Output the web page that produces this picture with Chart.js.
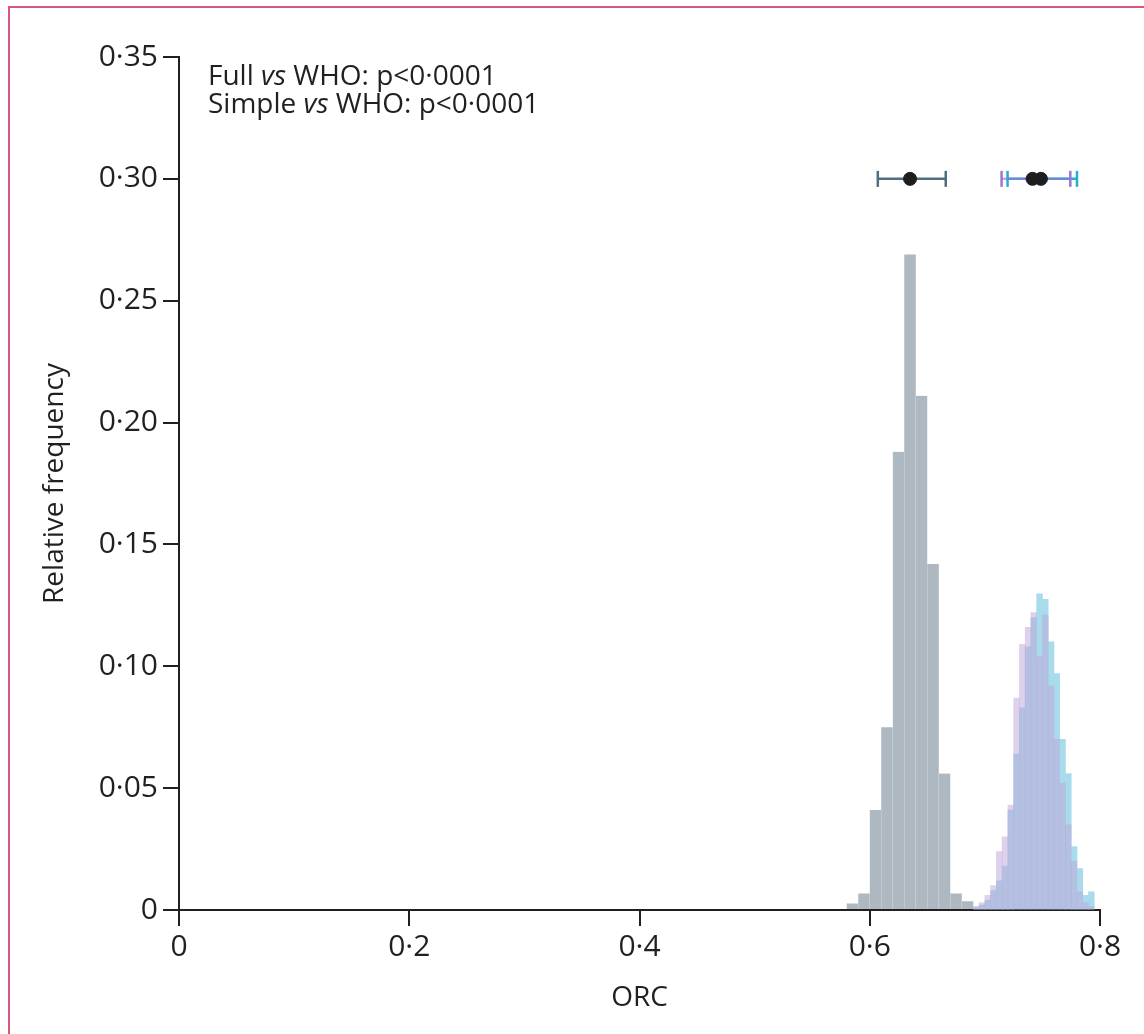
<!DOCTYPE html>
<html>
<head>
<meta charset="utf-8">
<script src="https://cdn.jsdelivr.net/npm/chart.js@4/dist/chart.umd.min.js"></script>
<style>
  html,body{margin:0;padding:0;background:#fff;}
  #wrap{position:relative;width:1144px;height:1034px;overflow:hidden;}
  #frame{position:absolute;left:8px;top:6px;width:1300px;height:1200px;border-left:2px solid #d9577a;border-top:2px solid #d9577a;}
  #c{position:absolute;left:0;top:0;}
</style>
</head>
<body>
<div id="wrap"><div id="frame"></div><canvas id="c" width="1144" height="1034"></canvas></div>
<script>
// ── ORC histogram: WHO vs Full vs Simple ──

// bin centres
const whoBins  = [0.585,0.595,0.605,0.615,0.625,0.635,0.645,0.655,0.665,0.675,0.685];
const whoFreq  = [0.0027,0.0068,0.041,0.075,0.188,0.269,0.211,0.142,0.056,0.0068,0.0036];

const fineBins   = [0.6925,0.6975,0.7025,0.7075,0.7125,0.7175,0.7225,0.7275,0.7325,0.7375,0.7425,
                    0.7475,0.7525,0.7575,0.7625,0.7675,0.7725,0.7775,0.7825,0.7875,0.7925];
const simpleFreq = [0.0015,0.003,0.006,0.010,0.024,0.030,0.043,0.087,0.109,0.116,0.122,
                    0.104,0.121,0.092,0.070,0.052,0.035,0.020,0.0075,0.003,0.0014];
const fullFreq   = [0.001,0.002,0.004,0.008,0.012,0.018,0.041,0.064,0.083,0.108,0.120,
                    0.1297,0.1275,0.110,0.097,0.070,0.056,0.026,0.017,0.006,0.0075];

// mean + 95% CI, drawn at y = 0.30  (WHO, Simple, Full)
const ciY    = 0.30;
const ciLow  = [0.607,0.7145,0.7197];
const ciMean = [0.635,0.7414,0.7487];
const ciHigh = [0.666,0.7742,0.780];

const xTickLabels = ['0','0·2','0·4','0·6','0·8'];
const yTickLabels = ['0','0·05','0·10','0·15','0·20','0·25','0·30','0·35'];

const annotLines = [['Full ','vs',' WHO: p<0·0001'],['Simple ','vs',' WHO: p<0·0001']];

const FONT = '"Open Sans", sans-serif';
const INK = '#231f20';
const ciColors = ['#4e6f7c','rgba(150,118,210,0.62)','#25aed2'];

const pts = (xs,ys)=>xs.map((x,i)=>({x,y:ys[i]}));

// purple first so it sits on top of the cyan one
const ciSets = [1,2,0].map(i=>({
  type:'line',
  data:[{x:ciLow[i],y:ciY},{x:ciHigh[i],y:ciY}],
  borderColor:ciColors[i],borderWidth:2.5,
  pointStyle:'line',pointRotation:90,pointRadius:8,pointHoverRadius:8,
  pointBorderColor:i===1?'#9a78d0':ciColors[i],pointBorderWidth:2.5,
  order:1,
}));

const annotPlugin = {
  id:'annot',
  afterDraw(chart){
    const ctx = chart.ctx;
    const a = chart.chartArea;
    ctx.save();
    ctx.fillStyle = INK;
    ctx.textBaseline = 'alphabetic';
    annotLines.forEach((parts,row)=>{
      let x = a.left + 29;
      const y = a.top + 28 + row*28;
      parts.forEach((p,k)=>{
        ctx.font = (k===1?'italic ':'') + '28px ' + FONT;
        ctx.fillText(p,x,y);
        x += ctx.measureText(p).width;
      });
    });
    ctx.restore();
  }
};

new Chart(document.getElementById('c').getContext('2d'),{
  type:'bar',
  data:{datasets:[
    {type:'scatter',data:pts(ciMean,ciMean.map(()=>ciY)),backgroundColor:'#1e1e1e',borderColor:'#1e1e1e',pointRadius:6.5,pointHoverRadius:6.5,order:0},
    ...ciSets,
    {label:'Simple',data:pts(fineBins,simpleFreq),xAxisID:'xf',backgroundColor:'rgba(190,164,215,0.51)',borderWidth:0,
      barPercentage:1,categoryPercentage:1,grouped:false,order:2},
    {label:'Full',data:pts(fineBins,fullFreq),xAxisID:'xf',backgroundColor:'rgb(168,220,236)',borderWidth:0,
      barPercentage:1,categoryPercentage:1,grouped:false,order:3},
    {label:'WHO',data:pts(whoBins,whoFreq),backgroundColor:'#aeb8c0',borderColor:'rgba(205,212,217,0.9)',
      borderWidth:{left:0.6,right:0.6,top:0,bottom:0},borderSkipped:'start',
      barPercentage:1,categoryPercentage:1,grouped:false,order:4},
  ]},
  options:{
    responsive:false,animation:false,
    layout:{padding:{left:38,right:44,top:57,bottom:19}},
    plugins:{legend:{display:false},tooltip:{enabled:false}},
    scales:{
      x:{type:'linear',min:0,max:0.8,offset:false,
        border:{display:true,color:INK,width:2},
        grid:{display:true,drawOnChartArea:false,drawTicks:true,tickLength:16,color:INK,lineWidth:2,offset:false},
        ticks:{stepSize:0.2,autoSkip:false,maxRotation:0,padding:3,color:INK,font:{family:FONT,size:30},
          callback:(v,i)=>xTickLabels[i]},
        title:{display:true,text:'ORC',color:INK,font:{family:FONT,size:28},padding:0},
        afterFit:s=>{s.height=1034-19-910;}
      },
      xf:{type:'linear',display:false,min:0,max:0.8,offset:false,grid:{offset:false}},
      y:{type:'linear',min:0,max:0.35,
        border:{display:true,color:INK,width:2},
        grid:{display:true,drawOnChartArea:false,drawTicks:true,tickLength:16,color:INK,lineWidth:2},
        ticks:{stepSize:0.05,autoSkip:false,padding:5,color:INK,font:{family:FONT,size:30},
          callback:(v,i)=>yTickLabels[i]},
        title:{display:true,text:'Relative frequency',color:INK,font:{family:FONT,size:28},padding:0},
        afterFit:s=>{s.width=179-38;}
      }
    }
  },
  plugins:[annotPlugin]
});
</script>
</body>
</html>
